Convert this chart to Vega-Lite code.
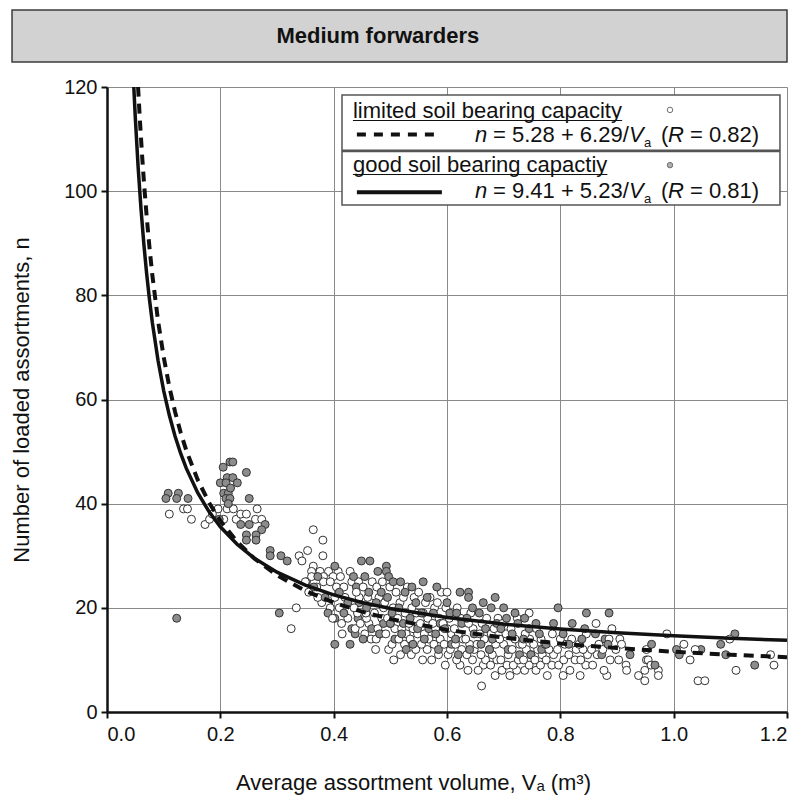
{
"$schema": "https://vega.github.io/schema/vega-lite/v6.json",
"width": 680, "height": 625,
"autosize": "none",
"padding": {"left": 107, "top": 87, "right": 20, "bottom": 92},
"background": "white",
"config": {"font": "Liberation Sans", "view": {"stroke": null},
 "text": {"font": "Liberation Sans", "fontSize": 22, "color": "#111", "baseline": "alphabetic"},
 "axis": {"grid": true, "labelFont": "Liberation Sans", "titleFont": "Liberation Sans", "labelFontSize": 20, "titleFontSize": 22, "titleFontWeight": "normal", "labelColor": "#111", "titleColor": "#111", "domainColor": "#111", "domainWidth": 2.5, "tickColor": "#111", "tickWidth": 2, "tickSize": 6, "gridColor": "#8a8a8a", "gridWidth": 1, "gridOpacity": 1}},
"datasets": {
"pts": [
{"x":0.110,"n":38,"g":"L"},{"x":0.135,"n":39,"g":"L"},{"x":0.142,"n":39,"g":"L"},{"x":0.149,"n":37,"g":"L"},{"x":0.173,"n":36,"g":"L"},{"x":0.181,"n":37,"g":"L"},{"x":0.196,"n":39,"g":"L"},{"x":0.212,"n":39,"g":"L"},{"x":0.223,"n":39,"g":"L"},{"x":0.206,"n":37,"g":"L"},{"x":0.228,"n":37,"g":"L"},{"x":0.236,"n":38,"g":"L"},{"x":0.246,"n":38,"g":"L"},{"x":0.265,"n":39,"g":"L"},{"x":0.262,"n":37,"g":"L"},{"x":0.273,"n":37,"g":"L"},{"x":0.186,"n":38,"g":"L"},
{"x":0.205,"n":47,"g":"G"},{"x":0.217,"n":48,"g":"G"},{"x":0.222,"n":48,"g":"G"},{"x":0.246,"n":46,"g":"G"},{"x":0.212,"n":45,"g":"G"},{"x":0.222,"n":45,"g":"G"},{"x":0.2,"n":44,"g":"G"},{"x":0.21,"n":44,"g":"G"},{"x":0.23,"n":44,"g":"G"},{"x":0.206,"n":42,"g":"G"},{"x":0.214,"n":42,"g":"G"},{"x":0.21,"n":41,"g":"G"},{"x":0.217,"n":41,"g":"G"},{"x":0.251,"n":41,"g":"G"},{"x":0.214,"n":40,"g":"G"},{"x":0.108,"n":42,"g":"G"},{"x":0.126,"n":42,"g":"G"},{"x":0.104,"n":41,"g":"G"},{"x":0.123,"n":41,"g":"G"},{"x":0.143,"n":41,"g":"G"},{"x":0.236,"n":36,"g":"G"},{"x":0.251,"n":36,"g":"G"},{"x":0.279,"n":36,"g":"G"},{"x":0.273,"n":35,"g":"G"},{"x":0.246,"n":34,"g":"G"},{"x":0.263,"n":34,"g":"G"},{"x":0.246,"n":33,"g":"G"},{"x":0.263,"n":33,"g":"G"},{"x":0.198,"n":37,"g":"G"},{"x":0.123,"n":18,"g":"G"},{"x":0.218,"n":43,"g":"G"},
{"x":0.288,"n":31,"g":"G"},{"x":0.288,"n":30,"g":"G"},{"x":0.307,"n":30,"g":"G"},{"x":0.318,"n":29,"g":"G"},{"x":0.304,"n":19,"g":"G"},{"x":0.352,"n":25,"g":"G"},
{"x":0.325,"n":16,"g":"L"},{"x":0.334,"n":20,"g":"L"},{"x":0.364,"n":35,"g":"L"},{"x":0.381,"n":33,"g":"L"},{"x":0.354,"n":31,"g":"L"},{"x":0.339,"n":30,"g":"L"},{"x":0.344,"n":29,"g":"L"},{"x":0.381,"n":30,"g":"L"},{"x":0.364,"n":28,"g":"L"},{"x":0.361,"n":27,"g":"L"},{"x":0.376,"n":27,"g":"L"},{"x":0.391,"n":27,"g":"L"},{"x":0.408,"n":27,"g":"L"},{"x":0.429,"n":27,"g":"L"},{"x":0.361,"n":26,"g":"L"},{"x":0.382,"n":26,"g":"L"},{"x":0.399,"n":26,"g":"L"},{"x":0.382,"n":25,"g":"L"},{"x":0.394,"n":25,"g":"L"},{"x":0.432,"n":25,"g":"L"},{"x":0.444,"n":25,"g":"L"},{"x":0.379,"n":21,"g":"L"},{"x":0.394,"n":20,"g":"L"},{"x":0.414,"n":17,"g":"L"},{"x":0.37,"n":24,"g":"L"},{"x":0.35,"n":25,"g":"L"},{"x":0.356,"n":23,"g":"L"},{"x":0.372,"n":22,"g":"L"},
{"x":0.365,"n":24,"g":"G"},{"x":0.372,"n":26,"g":"G"},{"x":0.385,"n":22,"g":"G"},{"x":0.39,"n":19,"g":"G"},{"x":0.402,"n":28,"g":"G"},{"x":0.402,"n":13,"g":"G"},{"x":0.429,"n":13,"g":"G"},{"x":0.402,"n":18,"g":"G"},
{"x":0.402,"n":22,"g":"L"},{"x":0.405,"n":24,"g":"L"},{"x":0.41,"n":20,"g":"L"},{"x":0.398,"n":18,"g":"L"},{"x":0.415,"n":15,"g":"L"},{"x":0.42,"n":22,"g":"L"},{"x":0.418,"n":24,"g":"L"},{"x":0.425,"n":18,"g":"L"},{"x":0.412,"n":26,"g":"L"},
{"x":0.41,"n":23,"g":"G"},{"x":0.425,"n":21,"g":"G"},{"x":0.418,"n":19,"g":"G"},{"x":0.432,"n":16,"g":"G"},{"x":0.44,"n":24,"g":"G"},{"x":0.435,"n":26,"g":"G"},{"x":0.445,"n":21,"g":"G"},{"x":0.443,"n":18,"g":"G"},{"x":0.438,"n":15,"g":"G"},{"x":0.449,"n":29,"g":"G"},{"x":0.464,"n":29,"g":"G"},{"x":0.493,"n":28,"g":"G"},{"x":0.493,"n":27,"g":"G"},
{"x":0.438,"n":16,"g":"L"},{"x":0.442,"n":19,"g":"L"},{"x":0.445,"n":22,"g":"L"},{"x":0.44,"n":23,"g":"L"},{"x":0.436,"n":20,"g":"L"},{"x":0.447,"n":17,"g":"L"},
{"x":0.455,"n":15,"g":"L"},{"x":0.462,"n":17,"g":"L"},{"x":0.458,"n":18,"g":"L"},{"x":0.465,"n":21,"g":"L"},{"x":0.46,"n":22,"g":"L"},{"x":0.452,"n":24,"g":"L"},{"x":0.468,"n":25,"g":"L"},{"x":0.457,"n":19,"g":"L"},{"x":0.466,"n":14,"g":"L"},
{"x":0.455,"n":26,"g":"G"},{"x":0.462,"n":23,"g":"G"},{"x":0.458,"n":20,"g":"G"},{"x":0.467,"n":16,"g":"G"},{"x":0.452,"n":14,"g":"G"},
{"x":0.475,"n":14,"g":"L"},{"x":0.482,"n":15,"g":"L"},{"x":0.478,"n":16,"g":"L"},{"x":0.485,"n":18,"g":"L"},{"x":0.472,"n":19,"g":"L"},{"x":0.488,"n":20,"g":"L"},{"x":0.48,"n":22,"g":"L"},{"x":0.476,"n":24,"g":"L"},{"x":0.486,"n":25,"g":"L"},{"x":0.474,"n":12,"g":"L"},
{"x":0.478,"n":27,"g":"G"},{"x":0.484,"n":23,"g":"G"},{"x":0.475,"n":21,"g":"G"},{"x":0.488,"n":17,"g":"G"},{"x":0.481,"n":15,"g":"G"},
{"x":0.497,"n":12,"g":"L"},{"x":0.503,"n":13,"g":"L"},{"x":0.492,"n":15,"g":"L"},{"x":0.508,"n":16,"g":"L"},{"x":0.5,"n":17,"g":"L"},{"x":0.495,"n":18,"g":"L"},{"x":0.505,"n":20,"g":"L"},{"x":0.49,"n":21,"g":"L"},{"x":0.51,"n":23,"g":"L"},{"x":0.499,"n":24,"g":"L"},{"x":0.506,"n":10,"g":"L"},
{"x":0.497,"n":26,"g":"G"},{"x":0.505,"n":25,"g":"G"},{"x":0.495,"n":22,"g":"G"},{"x":0.503,"n":19,"g":"G"},{"x":0.5,"n":17,"g":"G"},{"x":0.508,"n":14,"g":"G"},
{"x":0.518,"n":11,"g":"L"},{"x":0.525,"n":13,"g":"L"},{"x":0.515,"n":14,"g":"L"},{"x":0.528,"n":15,"g":"L"},{"x":0.52,"n":16,"g":"L"},{"x":0.513,"n":18,"g":"L"},{"x":0.526,"n":19,"g":"L"},{"x":0.517,"n":21,"g":"L"},{"x":0.523,"n":22,"g":"L"},{"x":0.53,"n":24,"g":"L"},
{"x":0.518,"n":25,"g":"G"},{"x":0.526,"n":23,"g":"G"},{"x":0.515,"n":20,"g":"G"},{"x":0.523,"n":17,"g":"G"},{"x":0.52,"n":15,"g":"G"},{"x":0.528,"n":12,"g":"G"},
{"x":0.537,"n":11,"g":"L"},{"x":0.545,"n":12,"g":"L"},{"x":0.535,"n":14,"g":"L"},{"x":0.548,"n":15,"g":"L"},{"x":0.54,"n":16,"g":"L"},{"x":0.533,"n":17,"g":"L"},{"x":0.546,"n":19,"g":"L"},{"x":0.538,"n":20,"g":"L"},{"x":0.542,"n":22,"g":"L"},{"x":0.55,"n":23,"g":"L"},
{"x":0.538,"n":24,"g":"G"},{"x":0.545,"n":21,"g":"G"},{"x":0.535,"n":18,"g":"G"},{"x":0.548,"n":16,"g":"G"},{"x":0.54,"n":13,"g":"G"},
{"x":0.557,"n":10,"g":"L"},{"x":0.565,"n":12,"g":"L"},{"x":0.555,"n":13,"g":"L"},{"x":0.568,"n":14,"g":"L"},{"x":0.56,"n":15,"g":"L"},{"x":0.553,"n":17,"g":"L"},{"x":0.566,"n":18,"g":"L"},{"x":0.558,"n":19,"g":"L"},{"x":0.562,"n":21,"g":"L"},{"x":0.57,"n":22,"g":"L"},
{"x":0.558,"n":25,"g":"G"},{"x":0.565,"n":22,"g":"G"},{"x":0.555,"n":19,"g":"G"},{"x":0.568,"n":16,"g":"G"},{"x":0.56,"n":14,"g":"G"},
{"x":0.573,"n":10,"g":"L"},{"x":0.585,"n":11,"g":"L"},{"x":0.577,"n":13,"g":"L"},{"x":0.588,"n":14,"g":"L"},{"x":0.58,"n":16,"g":"L"},{"x":0.575,"n":17,"g":"L"},{"x":0.586,"n":18,"g":"L"},{"x":0.578,"n":20,"g":"L"},{"x":0.583,"n":21,"g":"L"},{"x":0.59,"n":23,"g":"L"},
{"x":0.582,"n":24,"g":"G"},{"x":0.576,"n":19,"g":"G"},{"x":0.588,"n":17,"g":"G"},{"x":0.58,"n":15,"g":"G"},{"x":0.585,"n":12,"g":"G"},
{"x":0.602,"n":11,"g":"L"},{"x":0.597,"n":9,"g":"L"},{"x":0.606,"n":12,"g":"L"},{"x":0.595,"n":13,"g":"L"},{"x":0.608,"n":15,"g":"L"},{"x":0.6,"n":16,"g":"L"},{"x":0.593,"n":17,"g":"L"},{"x":0.604,"n":18,"g":"L"},{"x":0.598,"n":20,"g":"L"},{"x":0.6,"n":23,"g":"L"},
{"x":0.6,"n":21,"g":"G"},{"x":0.605,"n":19,"g":"G"},{"x":0.596,"n":16,"g":"G"},{"x":0.608,"n":13,"g":"G"},
{"x":0.623,"n":9,"g":"L"},{"x":0.617,"n":10,"g":"L"},{"x":0.626,"n":12,"g":"L"},{"x":0.615,"n":13,"g":"L"},{"x":0.628,"n":14,"g":"L"},{"x":0.62,"n":15,"g":"L"},{"x":0.613,"n":16,"g":"L"},{"x":0.624,"n":18,"g":"L"},{"x":0.618,"n":20,"g":"L"},
{"x":0.623,"n":23,"g":"G"},{"x":0.617,"n":19,"g":"G"},{"x":0.626,"n":17,"g":"G"},{"x":0.615,"n":14,"g":"G"},{"x":0.62,"n":11,"g":"G"},
{"x":0.637,"n":8,"g":"L"},{"x":0.645,"n":10,"g":"L"},{"x":0.635,"n":11,"g":"L"},{"x":0.648,"n":12,"g":"L"},{"x":0.64,"n":13,"g":"L"},{"x":0.633,"n":14,"g":"L"},{"x":0.646,"n":16,"g":"L"},{"x":0.638,"n":17,"g":"L"},{"x":0.642,"n":19,"g":"L"},
{"x":0.638,"n":23,"g":"G"},{"x":0.638,"n":22,"g":"G"},{"x":0.645,"n":20,"g":"G"},{"x":0.635,"n":18,"g":"G"},{"x":0.648,"n":15,"g":"G"},{"x":0.64,"n":12,"g":"G"},
{"x":0.661,"n":5,"g":"L"},{"x":0.664,"n":9,"g":"L"},{"x":0.655,"n":8,"g":"L"},{"x":0.668,"n":10,"g":"L"},{"x":0.66,"n":11,"g":"L"},{"x":0.653,"n":13,"g":"L"},{"x":0.666,"n":14,"g":"L"},{"x":0.658,"n":15,"g":"L"},{"x":0.662,"n":17,"g":"L"},{"x":0.67,"n":18,"g":"L"},
{"x":0.664,"n":21,"g":"G"},{"x":0.657,"n":19,"g":"G"},{"x":0.668,"n":16,"g":"G"},{"x":0.66,"n":13,"g":"G"},
{"x":0.685,"n":7,"g":"L"},{"x":0.677,"n":9,"g":"L"},{"x":0.688,"n":10,"g":"L"},{"x":0.68,"n":11,"g":"L"},{"x":0.675,"n":12,"g":"L"},{"x":0.686,"n":13,"g":"L"},{"x":0.678,"n":15,"g":"L"},{"x":0.683,"n":16,"g":"L"},{"x":0.69,"n":18,"g":"L"},
{"x":0.685,"n":22,"g":"G"},{"x":0.678,"n":20,"g":"G"},{"x":0.688,"n":17,"g":"G"},{"x":0.68,"n":14,"g":"G"},{"x":0.675,"n":12,"g":"G"},
{"x":0.711,"n":7,"g":"L"},{"x":0.697,"n":8,"g":"L"},{"x":0.706,"n":9,"g":"L"},{"x":0.695,"n":10,"g":"L"},{"x":0.708,"n":11,"g":"L"},{"x":0.7,"n":13,"g":"L"},{"x":0.693,"n":14,"g":"L"},{"x":0.704,"n":15,"g":"L"},{"x":0.698,"n":17,"g":"L"},
{"x":0.7,"n":20,"g":"G"},{"x":0.705,"n":18,"g":"G"},{"x":0.695,"n":16,"g":"G"},{"x":0.708,"n":12,"g":"G"},
{"x":0.723,"n":8,"g":"L"},{"x":0.717,"n":9,"g":"L"},{"x":0.726,"n":10,"g":"L"},{"x":0.715,"n":12,"g":"L"},{"x":0.728,"n":13,"g":"L"},{"x":0.72,"n":14,"g":"L"},{"x":0.713,"n":16,"g":"L"},{"x":0.724,"n":18,"g":"L"},
{"x":0.72,"n":19,"g":"G"},{"x":0.725,"n":17,"g":"G"},{"x":0.715,"n":15,"g":"G"},{"x":0.728,"n":11,"g":"G"},
{"x":0.737,"n":8,"g":"L"},{"x":0.745,"n":9,"g":"L"},{"x":0.735,"n":10,"g":"L"},{"x":0.748,"n":11,"g":"L"},{"x":0.74,"n":12,"g":"L"},{"x":0.733,"n":13,"g":"L"},{"x":0.746,"n":14,"g":"L"},{"x":0.738,"n":15,"g":"L"},{"x":0.745,"n":19,"g":"L"},
{"x":0.737,"n":18,"g":"G"},{"x":0.745,"n":16,"g":"G"},{"x":0.735,"n":14,"g":"G"},{"x":0.748,"n":11,"g":"G"},
{"x":0.757,"n":8,"g":"L"},{"x":0.765,"n":9,"g":"L"},{"x":0.755,"n":10,"g":"L"},{"x":0.768,"n":11,"g":"L"},{"x":0.76,"n":12,"g":"L"},{"x":0.753,"n":13,"g":"L"},{"x":0.766,"n":14,"g":"L"},{"x":0.758,"n":16,"g":"L"},
{"x":0.757,"n":17,"g":"G"},{"x":0.767,"n":12,"g":"G"},{"x":0.763,"n":15,"g":"G"},
{"x":0.777,"n":7,"g":"L"},{"x":0.785,"n":9,"g":"L"},{"x":0.775,"n":10,"g":"L"},{"x":0.788,"n":11,"g":"L"},{"x":0.78,"n":12,"g":"L"},{"x":0.773,"n":13,"g":"L"},{"x":0.786,"n":15,"g":"L"},
{"x":0.788,"n":17,"g":"G"},{"x":0.775,"n":13,"g":"G"},
{"x":0.805,"n":7,"g":"L"},{"x":0.797,"n":9,"g":"L"},{"x":0.806,"n":10,"g":"L"},{"x":0.795,"n":12,"g":"L"},{"x":0.808,"n":13,"g":"L"},{"x":0.8,"n":14,"g":"L"},
{"x":0.796,"n":20,"g":"G"},{"x":0.805,"n":15,"g":"G"},
{"x":0.817,"n":8,"g":"L"},{"x":0.826,"n":10,"g":"L"},{"x":0.815,"n":11,"g":"L"},{"x":0.828,"n":12,"g":"L"},{"x":0.82,"n":14,"g":"L"},
{"x":0.821,"n":17,"g":"G"},{"x":0.815,"n":13,"g":"G"},
{"x":0.835,"n":7,"g":"L"},{"x":0.845,"n":9,"g":"L"},{"x":0.836,"n":10,"g":"L"},{"x":0.848,"n":11,"g":"L"},{"x":0.84,"n":12,"g":"L"},{"x":0.833,"n":13,"g":"L"},{"x":0.846,"n":15,"g":"L"},
{"x":0.846,"n":19,"g":"G"},{"x":0.838,"n":14,"g":"G"},{"x":0.843,"n":16,"g":"G"},
{"x":0.863,"n":17,"g":"L"},{"x":0.857,"n":9,"g":"L"},{"x":0.865,"n":11,"g":"L"},{"x":0.855,"n":12,"g":"L"},{"x":0.868,"n":13,"g":"L"},
{"x":0.873,"n":11,"g":"G"},{"x":0.879,"n":14,"g":"G"},{"x":0.862,"n":15,"g":"G"},
{"x":0.882,"n":7,"g":"L"},{"x":0.877,"n":8,"g":"L"},{"x":0.888,"n":10,"g":"L"},{"x":0.875,"n":12,"g":"L"},{"x":0.886,"n":14,"g":"L"},{"x":0.891,"n":16,"g":"L"},
{"x":0.886,"n":19,"g":"G"},{"x":0.884,"n":13,"g":"G"},
{"x":0.905,"n":14,"g":"L"},{"x":0.908,"n":13,"g":"L"},{"x":0.916,"n":9,"g":"L"},{"x":0.917,"n":8,"g":"L"},{"x":0.898,"n":12,"g":"L"},{"x":0.903,"n":10,"g":"L"},
{"x":0.938,"n":7,"g":"L"},{"x":0.949,"n":8,"g":"L"},{"x":0.952,"n":10,"g":"L"},{"x":0.949,"n":6,"g":"L"},{"x":0.952,"n":12,"g":"L"},{"x":0.955,"n":10,"g":"L"},{"x":0.973,"n":8,"g":"L"},{"x":0.973,"n":7,"g":"L"},{"x":0.988,"n":15,"g":"L"},{"x":0.96,"n":9,"g":"L"},
{"x":0.923,"n":11,"g":"G"},{"x":0.961,"n":13,"g":"G"},{"x":0.967,"n":9,"g":"G"},{"x":1.005,"n":12,"g":"G"},{"x":1.01,"n":11,"g":"G"},{"x":1.048,"n":12,"g":"G"},{"x":1.083,"n":13,"g":"G"},{"x":1.092,"n":11,"g":"G"},{"x":1.108,"n":15,"g":"G"},{"x":1.143,"n":9,"g":"G"},
{"x":1.018,"n":13,"g":"L"},{"x":1.038,"n":12,"g":"L"},{"x":1.029,"n":10,"g":"L"},{"x":1.043,"n":6,"g":"L"},{"x":1.055,"n":6,"g":"L"},{"x":1.099,"n":14,"g":"L"},{"x":1.11,"n":8,"g":"L"},{"x":1.171,"n":11,"g":"L"},{"x":1.177,"n":9,"g":"L"}
],
"dash": [
{"x":0.0548,"n":120.06},{"x":0.058,"n":113.73},{"x":0.062,"n":106.73},{"x":0.066,"n":100.58},{"x":0.07,"n":95.14},{"x":0.075,"n":89.15},{"x":0.08,"n":83.91},{"x":0.09,"n":75.17},{"x":0.1,"n":68.18},{"x":0.11,"n":62.46},{"x":0.12,"n":57.70},{"x":0.13,"n":53.66},{"x":0.14,"n":50.21},{"x":0.16,"n":44.59},{"x":0.18,"n":40.22},{"x":0.2,"n":36.73},{"x":0.23,"n":32.63},{"x":0.26,"n":29.47},{"x":0.3,"n":26.25},{"x":0.35,"n":23.25},{"x":0.4,"n":21.01},{"x":0.45,"n":19.26},{"x":0.5,"n":17.86},{"x":0.6,"n":15.76},{"x":0.7,"n":14.27},{"x":0.8,"n":13.14},{"x":0.9,"n":12.27},{"x":1.0,"n":11.57},{"x":1.1,"n":11.00},{"x":1.2,"n":10.52}
],
"solid": [
{"x":0.0473,"n":120.0},{"x":0.05,"n":114.01},{"x":0.055,"n":104.50},{"x":0.06,"n":96.58},{"x":0.065,"n":89.87},{"x":0.07,"n":84.12},{"x":0.075,"n":79.14},{"x":0.08,"n":74.79},{"x":0.09,"n":67.52},{"x":0.1,"n":61.71},{"x":0.11,"n":56.96},{"x":0.12,"n":52.99},{"x":0.13,"n":49.64},{"x":0.14,"n":46.77},{"x":0.16,"n":42.10},{"x":0.18,"n":38.47},{"x":0.2,"n":35.56},{"x":0.23,"n":32.15},{"x":0.26,"n":29.53},{"x":0.3,"n":26.84},{"x":0.35,"n":24.35},{"x":0.4,"n":22.49},{"x":0.45,"n":21.03},{"x":0.5,"n":19.87},{"x":0.6,"n":18.13},{"x":0.7,"n":16.88},{"x":0.8,"n":15.95},{"x":0.9,"n":15.22},{"x":1.0,"n":14.64},{"x":1.1,"n":14.16},{"x":1.2,"n":13.77}
]
},
"layer": [
{"data": {"values": [{}]}, "mark": {"type": "rect", "fill": "#d2d2d2", "stroke": "#3c3c3c", "strokeWidth": 1.5},
 "encoding": {"x": {"datum": -0.1676}, "x2": {"datum": 1.2}, "y": {"datum": 134.8}, "y2": {"datum": 124.8}}},
{"data": {"values": [{}]}, "mark": {"type": "text", "text": "Medium forwarders", "fontSize": 22, "fontWeight": "bold", "align": "center", "baseline": "middle"},
 "encoding": {"x": {"datum": 0.478}, "y": {"datum": 129.8}}},
{"data": {"name": "pts"},
 "mark": {"type": "point", "shape": "circle", "filled": true, "size": 64, "stroke": "#333", "strokeWidth": 1, "opacity": 1},
 "encoding": {
  "x": {"field": "x", "type": "quantitative", "scale": {"domain": [0, 1.2], "nice": false, "zero": false},
        "axis": {"grid": true, "values": [0, 0.2, 0.4, 0.6, 0.8, 1.0, 1.2], "format": ".1f", "labelPadding": 6, "titlePadding": 28, "titleX": 306},
        "title": "Average assortment volume, Vₐ (m³)"},
  "y": {"field": "n", "type": "quantitative", "scale": {"domain": [0, 120], "nice": false},
        "axis": {"grid": true, "values": [0, 20, 40, 60, 80, 100, 120], "labelPadding": 4, "titlePadding": 30},
        "title": "Number of loaded assortments, n"},
  "fill": {"field": "g", "type": "nominal", "scale": {"domain": ["L", "G"], "range": ["#ffffff", "#8c8c8c"]}, "legend": null}
 }},
{"data": {"name": "dash"}, "mark": {"type": "line", "color": "#111", "strokeWidth": 4, "strokeDash": [10, 7], "clip": true},
 "encoding": {"x": {"field": "x", "type": "quantitative", "title": "Average assortment volume, Vₐ (m³)"}, "y": {"field": "n", "type": "quantitative", "title": "Number of loaded assortments, n"}}},
{"data": {"name": "solid"}, "mark": {"type": "line", "color": "#111", "strokeWidth": 3.5, "clip": true},
 "encoding": {"x": {"field": "x", "type": "quantitative", "title": "Average assortment volume, Vₐ (m³)"}, "y": {"field": "n", "type": "quantitative", "title": "Number of loaded assortments, n"}}},
{"data": {"values": [{}]}, "mark": {"type": "rect", "fill": "white", "stroke": "#555", "strokeWidth": 1.5},
 "encoding": {"x": {"datum": 0.4147}, "x2": {"datum": 1.1876}, "y": {"datum": 118.46}, "y2": {"datum": 107.85}}},
{"data": {"values": [{}]}, "mark": {"type": "rect", "fill": "white", "stroke": "#555", "strokeWidth": 1.5},
 "encoding": {"x": {"datum": 0.4147}, "x2": {"datum": 1.1876}, "y": {"datum": 107.6}, "y2": {"datum": 97.34}}},
{"data": {"values": [{}]}, "mark": {"type": "text", "text": "limited soil bearing capacity", "align": "left"},
 "encoding": {"x": {"datum": 0.434}, "y": {"datum": 114.0}}},
{"data": {"values": [{}]}, "mark": {"type": "rule", "color": "#111", "strokeWidth": 1.2},
 "encoding": {"x": {"datum": 0.434}, "x2": {"datum": 0.909}, "y": {"datum": 113.57}}},
{"data": {"values": [{}]}, "mark": {"type": "point", "shape": "circle", "filled": true, "fill": "white", "stroke": "#333", "strokeWidth": 1, "size": 30},
 "encoding": {"x": {"datum": 0.9935}, "y": {"datum": 115.6}}},
{"data": {"values": [{}]}, "mark": {"type": "rule", "color": "#111", "strokeWidth": 4, "strokeDash": [9, 8]},
 "encoding": {"x": {"datum": 0.441}, "x2": {"datum": 0.591}, "y": {"datum": 110.9}}},
{"data": {"values": [{}]}, "mark": {"type": "text", "text": "n", "fontStyle": "italic", "align": "left"}, "encoding": {"x": {"datum": 0.6494}, "y": {"datum": 109.4}}},
{"data": {"values": [{}]}, "mark": {"type": "text", "text": "= 5.28 + 6.29/", "align": "left"}, "encoding": {"x": {"datum": 0.6812}, "y": {"datum": 109.4}}},
{"data": {"values": [{}]}, "mark": {"type": "text", "text": "V", "fontStyle": "italic", "align": "left"}, "encoding": {"x": {"datum": 0.9212}, "y": {"datum": 109.4}}},
{"data": {"values": [{}]}, "mark": {"type": "text", "text": "a", "fontSize": 13, "align": "left"}, "encoding": {"x": {"datum": 0.9476}, "y": {"datum": 108.44}}},
{"data": {"values": [{}]}, "mark": {"type": "text", "text": "(", "align": "left"}, "encoding": {"x": {"datum": 0.9776}, "y": {"datum": 109.4}}},
{"data": {"values": [{}]}, "mark": {"type": "text", "text": "R", "fontStyle": "italic", "align": "left"}, "encoding": {"x": {"datum": 0.99}, "y": {"datum": 109.4}}},
{"data": {"values": [{}]}, "mark": {"type": "text", "text": "= 0.82)", "align": "left"}, "encoding": {"x": {"datum": 1.0288}, "y": {"datum": 109.4}}},
{"data": {"values": [{}]}, "mark": {"type": "text", "text": "good soil bearing capactiy", "align": "left"},
 "encoding": {"x": {"datum": 0.434}, "y": {"datum": 103.6}}},
{"data": {"values": [{}]}, "mark": {"type": "rule", "color": "#111", "strokeWidth": 1.2},
 "encoding": {"x": {"datum": 0.434}, "x2": {"datum": 0.883}, "y": {"datum": 103.2}}},
{"data": {"values": [{}]}, "mark": {"type": "point", "shape": "circle", "filled": true, "fill": "#8c8c8c", "stroke": "#333", "strokeWidth": 1, "size": 30},
 "encoding": {"x": {"datum": 0.9935}, "y": {"datum": 105.0}}},
{"data": {"values": [{}]}, "mark": {"type": "rule", "color": "#111", "strokeWidth": 4},
 "encoding": {"x": {"datum": 0.441}, "x2": {"datum": 0.591}, "y": {"datum": 99.8}}},
{"data": {"values": [{}]}, "mark": {"type": "text", "text": "n", "fontStyle": "italic", "align": "left"}, "encoding": {"x": {"datum": 0.6494}, "y": {"datum": 98.6}}},
{"data": {"values": [{}]}, "mark": {"type": "text", "text": "= 9.41 + 5.23/", "align": "left"}, "encoding": {"x": {"datum": 0.6812}, "y": {"datum": 98.6}}},
{"data": {"values": [{}]}, "mark": {"type": "text", "text": "V", "fontStyle": "italic", "align": "left"}, "encoding": {"x": {"datum": 0.9212}, "y": {"datum": 98.6}}},
{"data": {"values": [{}]}, "mark": {"type": "text", "text": "a", "fontSize": 13, "align": "left"}, "encoding": {"x": {"datum": 0.9476}, "y": {"datum": 97.64}}},
{"data": {"values": [{}]}, "mark": {"type": "text", "text": "(", "align": "left"}, "encoding": {"x": {"datum": 0.9776}, "y": {"datum": 98.6}}},
{"data": {"values": [{}]}, "mark": {"type": "text", "text": "R", "fontStyle": "italic", "align": "left"}, "encoding": {"x": {"datum": 0.99}, "y": {"datum": 98.6}}},
{"data": {"values": [{}]}, "mark": {"type": "text", "text": "= 0.81)", "align": "left"}, "encoding": {"x": {"datum": 1.0288}, "y": {"datum": 98.6}}}
]
}
